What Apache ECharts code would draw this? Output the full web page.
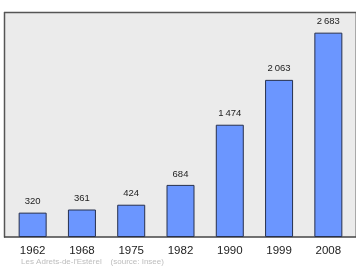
<!DOCTYPE html>
<html><head><meta charset="utf-8">
<script src="https://cdn.jsdelivr.net/npm/echarts@6/dist/echarts.min.js"></script>
<style>html,body{margin:0;padding:0;background:#fff}#c{width:360px;height:270px}</style>
</head><body><div id="c"></div>
<script>
var years = ['1962','1968','1975','1982','1990','1999','2008'];
var population = [320, 361, 424, 684, 1474, 2063, 2683];
var footer = "Les Adrets-de-l'Estérel    (source: Insee)";

function fmt(v){ return String(v).replace(/\B(?=(\d{3})+(?!\d))/g, '\u2009'); }

var FONT = '"Liberation Sans", Arial, sans-serif';
var chart = echarts.init(document.getElementById('c'), null, {renderer:'canvas'});
chart.setOption({
  animation: false,
  backgroundColor: '#ffffff',
  graphic: [
    {type:'rect', z:-10, shape:{x:4,y:12,width:352,height:225}, style:{fill:'#ebebeb', stroke:null}},
    {type:'line', z:-5, shape:{x1:355.5,y1:12,x2:355.5,y2:237}, style:{stroke:'#a8a8a8', lineWidth:1}},
    {type:'line', z:-5, shape:{x1:4,y1:12.5,x2:356,y2:12.5}, style:{stroke:'#555', lineWidth:1.3}},
    {type:'line', z:-5, shape:{x1:4.5,y1:12,x2:4.5,y2:237.5}, style:{stroke:'#555', lineWidth:1.5}},
    {type:'line', z:-5, shape:{x1:4,y1:237,x2:356,y2:237}, style:{stroke:'#444', lineWidth:1.3}},
    {type:'text', left:21, top:258, style:{text:footer, fill:'#bdbdbd', font:'8px ' + FONT}}
  ],
  grid: {left:8, right:7, top:12, bottom:33, containLabel:false},
  xAxis: {
    type:'category', data: years,
    axisLine:{show:false}, axisTick:{show:false},
    axisLabel:{color:'#222', fontSize:11.5, fontFamily:FONT, margin:8}
  },
  yAxis: {type:'value', min:0, max:2954, show:false, splitLine:{show:false}},
  series: [{
    type:'bar', data: population, barWidth:28,
    itemStyle:{color:'#6b96ff', borderColor:'#27304d', borderWidth:1},
    label:{show:true, position:'top', distance:6, color:'#222', fontSize:9.5,
      fontFamily:FONT, formatter:function(p){return fmt(p.value);}}
  }]
});
</script></body></html>
